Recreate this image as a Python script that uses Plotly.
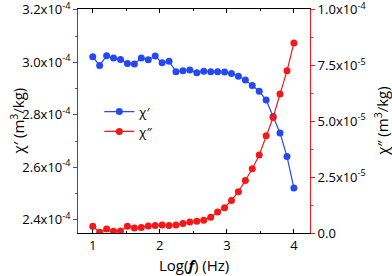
import plotly.graph_objects as go

log_f = [1.000, 1.103, 1.207, 1.310, 1.414, 1.517, 1.621, 1.724, 1.828, 1.931,
         2.034, 2.138, 2.241, 2.345, 2.448, 2.552, 2.655, 2.759, 2.862, 2.966,
         3.069, 3.172, 3.276, 3.379, 3.483, 3.586, 3.690, 3.793, 3.897, 4.000]

chi_real_e4 = [3.021, 2.988, 3.025, 3.016, 3.011, 2.995, 2.994, 3.016, 3.010, 3.024,
               2.998, 3.004, 2.964, 2.968, 2.971, 2.960, 2.966, 2.964, 2.964, 2.963,
               2.957, 2.947, 2.933, 2.912, 2.890, 2.856, 2.794, 2.731, 2.641, 2.521]

chi_imag_e5 = [0.30, 0.03, 0.18, 0.08, 0.09, 0.30, 0.22, 0.25, 0.31, 0.34,
               0.36, 0.34, 0.36, 0.42, 0.49, 0.53, 0.57, 0.71, 0.94, 1.13,
               1.46, 1.85, 2.35, 2.88, 3.49, 4.35, 5.17, 6.22, 7.26, 8.51]

chi_real = [v * 1e-4 for v in chi_real_e4]
chi_imag = [v * 1e-5 for v in chi_imag_e5]

x_ticks = [1, 2, 3, 4]
left_tickvals = [2.4e-4, 2.6e-4, 2.8e-4, 3.0e-4, 3.2e-4]
left_ticktext = ["2.4x10<sup>-4</sup>", "2.6x10<sup>-4</sup>", "2.8x10<sup>-4</sup>",
                 "3.0x10<sup>-4</sup>", "3.2x10<sup>-4</sup>"]
right_tickvals = [0, 2.5e-5, 5.0e-5, 7.5e-5, 1.0e-4]
right_ticktext = ["0.0", "2.5x10<sup>-5</sup>", "5.0x10<sup>-5</sup>",
                  "7.5x10<sup>-5</sup>", "1.0x10<sup>-4</sup>"]

BLUE = "#2548f2"
RED = "#f41818"
FONT = "Open Sans"

fig = go.Figure()
fig.add_trace(go.Scatter(x=log_f, y=chi_real, name="χ′", mode="lines+markers",
                         line=dict(color=BLUE, width=1.2),
                         marker=dict(color=BLUE, size=7), yaxis="y"))
fig.add_trace(go.Scatter(x=log_f, y=chi_imag, name="χ″", mode="lines+markers",
                         line=dict(color=RED, width=1.2),
                         marker=dict(color=RED, size=7), yaxis="y2"))

fig.update_layout(
    width=392, height=276,
    margin=dict(l=78, r=82, t=9, b=43, autoexpand=False),
    paper_bgcolor="white", plot_bgcolor="white",
    font=dict(family=FONT, size=13, color="black"),
    showlegend=True,
    legend=dict(x=0.092, y=0.609, xanchor="left", yanchor="top",
                bgcolor="rgba(0,0,0,0)", font=dict(size=13, family=FONT),
                itemwidth=30, tracegroupgap=0),
    xaxis=dict(range=[0.78, 4.24], tickmode="array", tickvals=x_ticks,
               ticktext=[str(v) for v in x_ticks], automargin=False,
               showgrid=False, zeroline=False, showline=True, linecolor="black",
               linewidth=1, mirror="ticks", ticks="inside", ticklen=4,
               tickcolor="black",
               minor=dict(tickvals=[1.5, 2.5, 3.5], ticks="inside", ticklen=2,
                          tickcolor="black"),
               tickfont=dict(size=13)),
    yaxis=dict(range=[2.35e-4, 3.203e-4], tickmode="array",
               tickvals=left_tickvals, ticktext=left_ticktext, automargin=False,
               ticklabeloverflow="allow",
               showgrid=False, zeroline=False, showline=True, linecolor=BLUE,
               linewidth=1, ticks="outside", ticklen=4, tickcolor=BLUE,
               minor=dict(tickvals=[2.5e-4, 2.7e-4, 2.9e-4, 3.1e-4],
                          ticks="outside", ticklen=2, tickcolor=BLUE),
               tickfont=dict(size=13)),
    yaxis2=dict(range=[0, 1.003e-4], overlaying="y", side="right",
                tickmode="array", tickvals=right_tickvals, ticktext=right_ticktext,
                automargin=False, ticklabeloverflow="allow",
                showgrid=False, zeroline=False, showline=True, linecolor=RED,
                linewidth=1, ticks="outside", ticklen=4, tickcolor=RED,
                minor=dict(tickvals=[1.25e-5, 3.75e-5, 6.25e-5, 8.75e-5],
                           ticks="outside", ticklen=2, tickcolor=RED),
                tickfont=dict(size=13)),
    annotations=[
        dict(text="Log(<b><i>f</i></b>) (Hz)", xref="paper", yref="paper",
             x=0.5, y=-0.143, xanchor="center", yanchor="middle",
             showarrow=False, font=dict(size=15, family=FONT)),
        dict(text="χ′ (m<sup>3</sup>/kg)", xref="paper", yref="paper",
             x=-0.265, y=0.5, xanchor="center", yanchor="middle", textangle=-90,
             showarrow=False, font=dict(size=15, family=FONT)),
        dict(text="χ″ (m<sup>3</sup>/kg)", xref="paper", yref="paper",
             x=1.305, y=0.5, xanchor="center", yanchor="middle", textangle=-90,
             showarrow=False, font=dict(size=15, family=FONT)),
    ],
)

fig.write_html("out.html", config={"displayModeBar": False},
               post_script="document.body.style.margin='0';")
